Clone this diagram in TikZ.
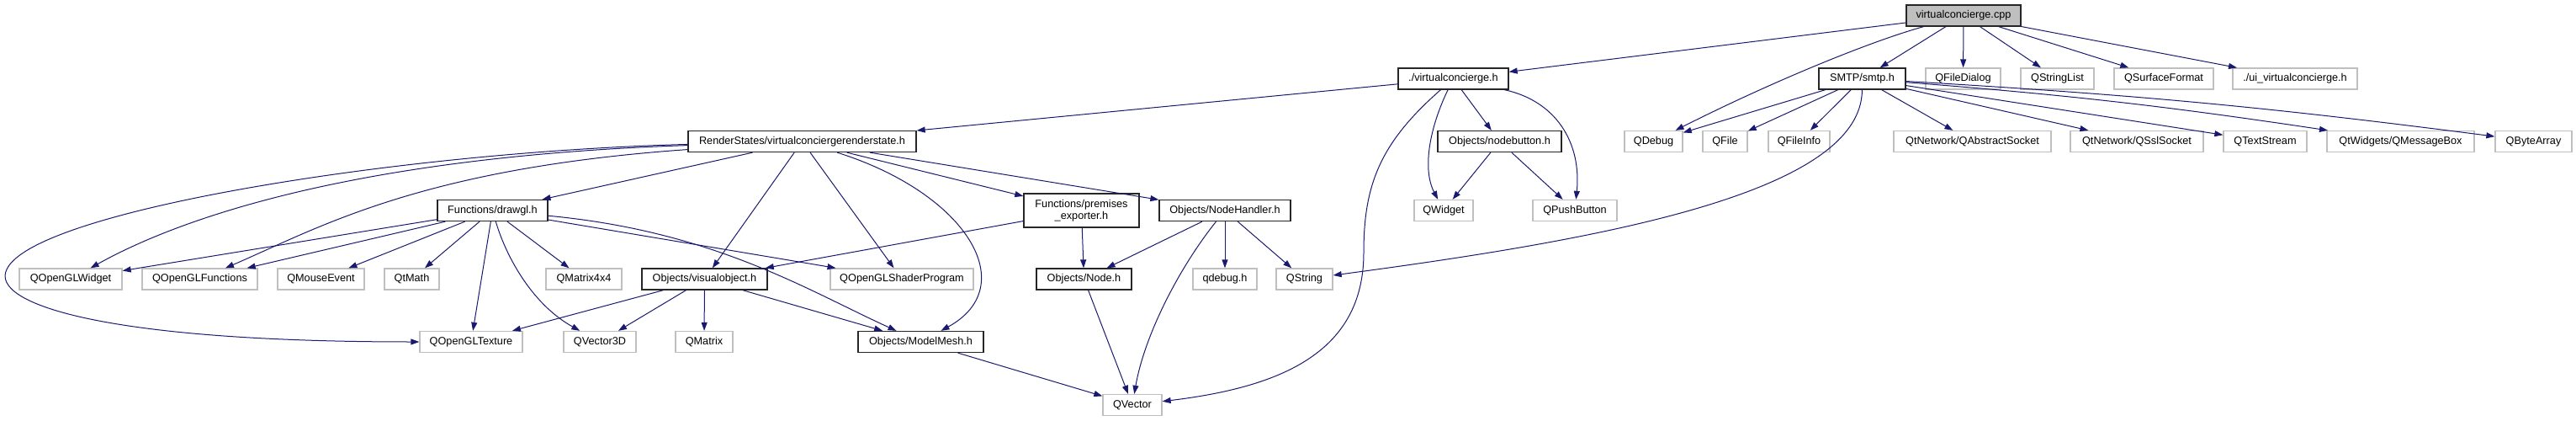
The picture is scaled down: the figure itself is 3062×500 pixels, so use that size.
\documentclass[tikz,border=0pt]{standalone}
\usepackage{fontspec}
\setmainfont{Liberation Sans}
\usetikzlibrary{arrows.meta}
\definecolor{edgeblue}{RGB}{25,25,112}
\definecolor{boxgray}{RGB}{191,191,191}
\begin{document}
\begin{tikzpicture}[x=1pt,y=-1pt,
  box/.style={draw,fill=white,line width=1.3pt,minimum height=25pt,inner sep=1pt,
    font=\fontsize{12.7}{14.3}\selectfont},
  hdr/.style={box,draw=black!85},
  ext/.style={box,draw=boxgray},
  dep/.style={draw=edgeblue,line width=1pt,-{Triangle[length=10pt,width=7pt]}}]
\useasboundingbox (0,0) rectangle (3062,500);
% top: the source file
\node[hdr,fill=boxgray,minimum width=136pt] (cpp) at (2334,18.5) {virtualconcierge.cpp};
% rank 1
\node[hdr,minimum width=131pt] (vch) at (1727.5,93.5) {./virtualconcierge.h};
\node[hdr,minimum width=103pt] (smtp) at (2213.5,93.5) {SMTP/smtp.h};
\node[ext,minimum width=89pt] (qfiledlg) at (2333.5,93.5) {QFileDialog};
\node[ext,minimum width=87pt] (qstrlist) at (2445.5,93.5) {QStringList};
\node[ext,minimum width=118pt] (qsurf) at (2572,93.5) {QSurfaceFormat};
\node[ext,minimum width=148pt] (uivc) at (2728,93.5) {./ui\_virtualconcierge.h};
% rank 2
\node[hdr,minimum width=271pt] (rs) at (953.5,168) {RenderStates/virtualconciergerenderstate.h};
\node[hdr,minimum width=147pt] (nb) at (1782.5,168) {Objects/nodebutton.h};
\node[ext,minimum width=69pt] (qdebug) at (1965.5,168) {QDebug};
\node[ext,minimum width=53pt] (qfile) at (2050.5,168) {QFile};
\node[ext,minimum width=73pt] (qfinfo) at (2138.5,168) {QFileInfo};
\node[ext,minimum width=187pt] (qabs) at (2344.5,168) {QtNetwork/QAbstractSocket};
\node[ext,minimum width=158pt] (qssl) at (2540,168) {QtNetwork/QSslSocket};
\node[ext,minimum width=99pt] (qts) at (2692.5,168) {QTextStream};
\node[ext,minimum width=175pt] (qmsg) at (2853.5,168) {QtWidgets/QMessageBox};
\node[ext,minimum width=91pt] (qba) at (3011.5,168) {QByteArray};
% rank 3
\node[hdr,minimum width=131pt] (dg) at (585.5,250) {Functions/drawgl.h};
\node[hdr,minimum width=137pt,minimum height=40pt,align=center] (prem) at (1285.5,250) {Functions/premises\\\_exporter.h};
\node[hdr,minimum width=156pt] (nh) at (1456,250) {Objects/NodeHandler.h};
\node[ext,minimum width=70pt] (qwid) at (1716,250) {QWidget};
\node[ext,minimum width=100pt] (qpb) at (1872,250) {QPushButton};
% rank 4
\node[ext,minimum width=122pt] (qglw) at (84,331.5) {QOpenGLWidget};
\node[ext,minimum width=137pt] (qglf) at (237.5,331.5) {QOpenGLFunctions};
\node[ext,minimum width=103pt] (qme) at (381.5,331.5) {QMouseEvent};
\node[ext,minimum width=65pt] (qtm) at (489.5,331.5) {QtMath};
\node[ext,minimum width=90pt] (qm44) at (694,331.5) {QMatrix4x4};
\node[hdr,minimum width=149pt] (vo) at (837.5,331.5) {Objects/visualobject.h};
\node[ext,minimum width=170pt] (qsp) at (1072,331.5) {QOpenGLShaderProgram};
\node[hdr,minimum width=113pt] (nodeh) at (1288.5,331.5) {Objects/Node.h};
\node[ext,minimum width=76pt] (qdbgh) at (1456,331.5) {qdebug.h};
\node[ext,minimum width=67pt] (qstr) at (1550.5,331.5) {QString};
% rank 5
\node[ext,minimum width=122pt] (qtex) at (560,406) {QOpenGLTexture};
\node[ext,minimum width=86pt] (qv3) at (713,406) {QVector3D};
\node[ext,minimum width=68pt] (qmat) at (837,406) {QMatrix};
\node[hdr,minimum width=149pt] (mm) at (1094.5,406) {Objects/ModelMesh.h};
% rank 6
\node[ext,minimum width=70pt] (qvec) at (1346,481) {QVector};
% bend points of the long edges
\coordinate (ltex) at (8,320);
\coordinate (vqmid) at (1621,300);

% includes of virtualconcierge.cpp
\draw[dep] (cpp) -- (vch);
\draw[dep] (cpp) .. controls (2220,50) and (2100,100) .. (qdebug);
\draw[dep] (cpp) -- (smtp);
\draw[dep] (cpp) -- (qfiledlg);
\draw[dep] (cpp) -- (qstrlist);
\draw[dep] (cpp) -- (qsurf);
\draw[dep] (cpp) -- (uivc);
% ./virtualconcierge.h
\draw[dep] (vch) -- (rs);
\draw[dep] (vch) -- (nb);
\draw[dep] (vch) .. controls (1700,150) and (1690,200) .. (qwid);
\draw[dep] (vch) .. controls (1850,120) and (1880,170) .. (qpb);
\draw[dep] (vch) .. controls (1640,170) and (1621,220) .. (vqmid)
  .. controls (1621,420) and (1520,460) .. (qvec);
% render state
\draw[dep] (rs) .. controls (480,180) and (40,250) .. (ltex)
  .. controls (-12,360) and (120,406) .. (qtex);
\draw[dep] (rs) .. controls (450,185) and (230,250) .. (qglw);
\draw[dep] (rs) .. controls (500,200) and (380,270) .. (qglf);
\draw[dep] (rs) -- (dg);
\draw[dep] (rs) -- (prem);
\draw[dep] (rs) -- (nh);
\draw[dep] (rs) -- (vo);
\draw[dep] (rs) -- (qsp);
\draw[dep] (rs) .. controls (1150,230) and (1215,340) .. (mm);
% drawgl
\draw[dep] (dg) -- (qglw);
\draw[dep] (dg) -- (qglf);
\draw[dep] (dg) -- (qme);
\draw[dep] (dg) -- (qtm);
\draw[dep] (dg) -- (qtex);
\draw[dep] (dg) .. controls (600,300) and (630,360) .. (qv3);
\draw[dep] (dg) -- (qm44);
\draw[dep] (dg) -- (qsp);
\draw[dep] (dg) .. controls (850,275) and (960,345) .. (mm);
% premises exporter, node handler
\draw[dep] (prem) -- (vo);
\draw[dep] (prem) -- (nodeh);
\draw[dep] (nh) -- (nodeh);
\draw[dep] (nh) .. controls (1400,320) and (1360,400) .. (qvec);
\draw[dep] (nh) -- (qdbgh);
\draw[dep] (nh) -- (qstr);
% visual object, mesh, node
\draw[dep] (vo) -- (qtex);
\draw[dep] (vo) -- (qv3);
\draw[dep] (vo) -- (qmat);
\draw[dep] (vo) -- (mm);
\draw[dep] (mm) -- (qvec);
\draw[dep] (nodeh) -- (qvec);
% node button
\draw[dep] (nb) -- (qwid);
\draw[dep] (nb) -- (qpb);
% smtp
\draw[dep] (smtp) -- (qdebug);
\draw[dep] (smtp) -- (qfile);
\draw[dep] (smtp) -- (qfinfo);
\draw[dep] (smtp) -- (qabs);
\draw[dep] (smtp) -- (qssl);
\draw[dep] (smtp) -- (qts);
\draw[dep] (smtp) to[bend left=2] (qmsg);
\draw[dep] (smtp) to[bend left=2] (qba);
\draw[dep] (smtp) .. controls (2213,230) and (1900,285) .. (qstr);
\end{tikzpicture}
\end{document}
